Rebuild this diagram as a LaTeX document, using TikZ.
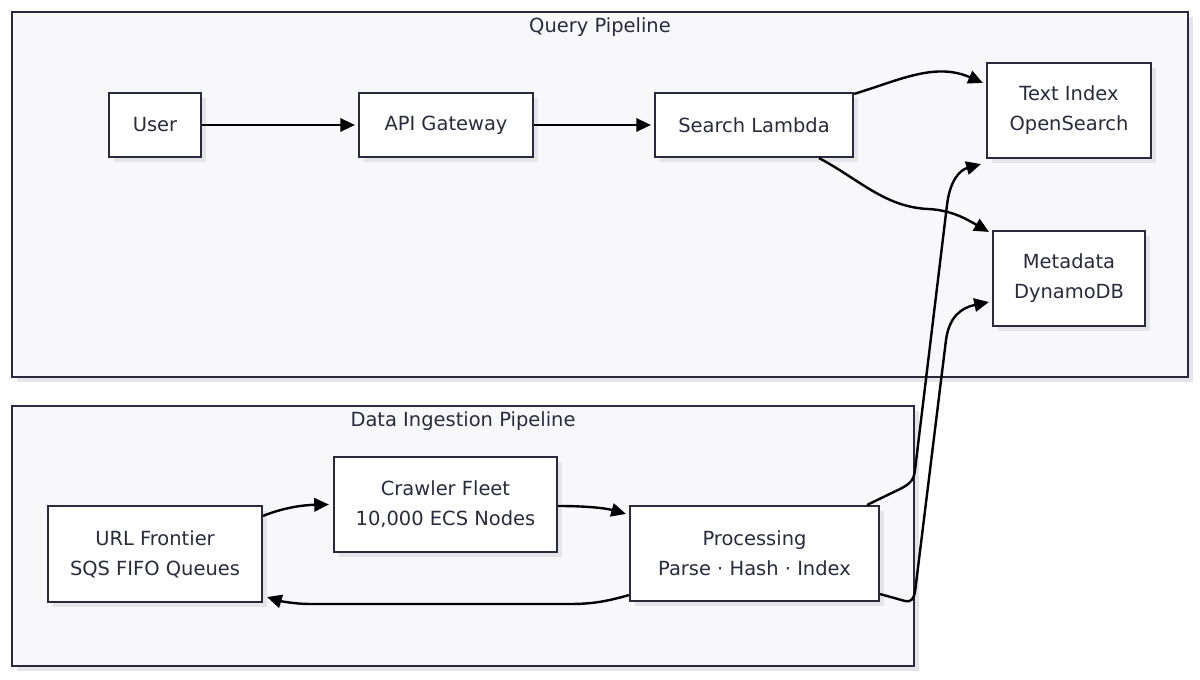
\documentclass[tikz,border=0pt]{standalone}
\usepackage{fontspec}
\setmainfont{DejaVu Sans}
\usetikzlibrary{arrows.meta,shadows,calc}
\definecolor{ink}{HTML}{2A2A3E}
\definecolor{panel}{HTML}{F8F8FA}
\definecolor{shade}{HTML}{E4E4E9}
\tikzset{
  box/.style={draw=ink, line width=1.6pt, fill=white, text=ink, inner sep=0pt, align=center,
    font=\fontsize{14.6}{22.5}\selectfont,
    drop shadow={shadow xshift=3.75pt, shadow yshift=-3.75pt, fill=shade, opacity=1}},
  container/.style={draw=ink, line width=1.6pt, fill=panel, inner sep=0pt,
    drop shadow={shadow xshift=3.75pt, shadow yshift=-3.75pt, fill=shade, opacity=1}},
  title/.style={text=ink, font=\fontsize{14.6}{18}\selectfont, inner sep=0pt},
  edge/.style={draw=black, line width=1.8pt, -{Triangle[length=11pt,width=10pt]}, line join=round}
}
\begin{document}
\begin{tikzpicture}[x=0.75pt,y=-0.75pt]
\useasboundingbox[fill=white] (0,0) rectangle (1200,680);
% containers
\node[container, minimum width=882pt, minimum height=273.75pt] (qp) at (600,194.5) {};
\node[title] (qpt) at (600,27) {Query Pipeline};
\node[container, minimum width=676.5pt, minimum height=195pt] (dp) at (463,536) {};
\node[title] (dpt) at (463,421) {Data Ingestion Pipeline};
% nodes
\node[box, minimum width=69pt, minimum height=48pt] (user) at (155,125) {User};
\node[box, minimum width=130.5pt, minimum height=48pt] (api) at (446,125) {API Gateway};
\node[box, minimum width=148.5pt, minimum height=48pt] (sl) at (754,125) {Search Lambda};
\node[box, minimum width=123pt, minimum height=71.25pt] (ti) at (1069,110.5) {Text Index\\OpenSearch};
\node[box, minimum width=114pt, minimum height=71.25pt] (md) at (1069,278.5) {Metadata\\DynamoDB};
\node[box, minimum width=160.5pt, minimum height=72pt] (url) at (155,554) {URL Frontier\\SQS FIFO Queues};
\node[box, minimum width=167.25pt, minimum height=71.25pt] (cf) at (445.5,504.5) {Crawler Fleet\\10,000 ECS Nodes};
\node[box, minimum width=186.75pt, minimum height=71.25pt] (pr) at (754.5,553.5) {Processing\\Parse · Hash · Index};
% edges
\draw[edge] (user.east) -- ($(api.west)+(-3,0)$);
\draw[edge] (api.east) -- ($(sl.west)+(-3,0)$);
\draw[edge] ($(sl.north east)+(0,2)$) .. controls (900,80) and (935,62) .. ($(ti.north west)+(-3,21)$);
\draw[edge] ($(sl.south east)+(-35,0)$) .. controls (860,180) and (885,207) .. (928,209)
   .. controls (952,210) and (968,220) .. ($(md.north west)+(-3,2)$);
\draw[edge] ($(pr.north east)+(-13,0)$) -- (900,489) .. controls (910,484) and (914,480) .. (915,470)
   -- (947,205) .. controls (950,180) and (960,170) .. ($(ti.south west)+(-5,5)$);
\draw[edge] ($(pr.south east)+(0,-8)$) -- (905,601) .. controls (911,603) and (914,598) .. (915,592)
   -- (946,340) .. controls (949,318) and (960,308) .. ($(md.west)+(-3,23.5)$);
\draw[edge] ($(url.north east)+(0,11)$) .. controls (285,507) and (305,505) .. ($(cf.west)+(-4,0)$);
\draw[edge] ($(cf.east)+(0,1.5)$) .. controls (585,506) and (605,508) .. ($(pr.north west)+(-3,9)$);
\draw[edge] ($(pr.south west)+(0,-7)$) .. controls (605,602) and (590,604) .. (570,604) -- (310,604)
   .. controls (295,604) and (280,601) .. ($(url.south east)+(4,-6)$);
\end{tikzpicture}
\end{document}
